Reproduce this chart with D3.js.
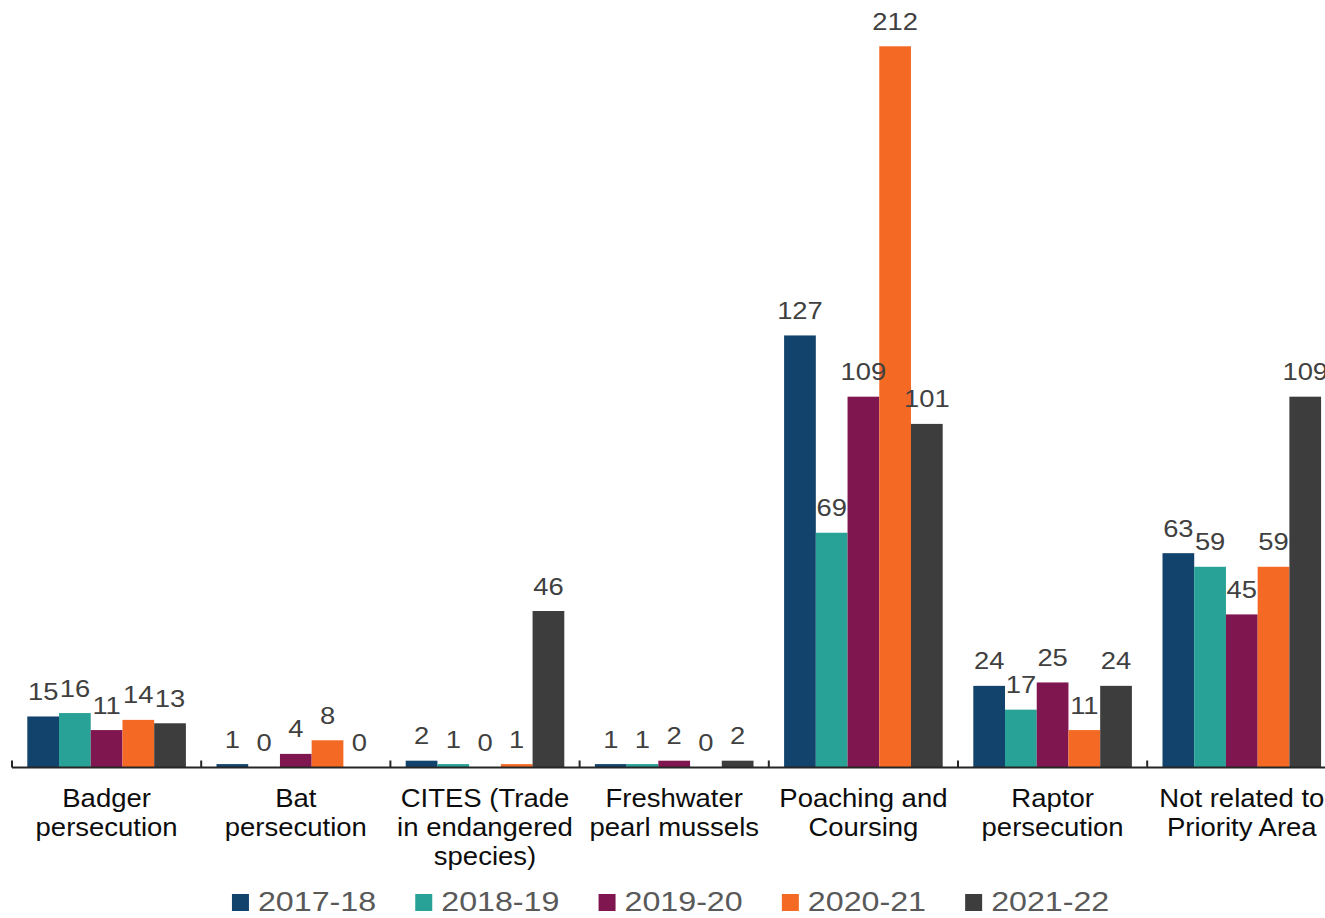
<!DOCTYPE html>
<html>
<head>
<meta charset="utf-8">
<script src="https://cdn.jsdelivr.net/npm/d3@7"></script>
<style>
  html, body { margin: 0; padding: 0; background: #ffffff; }
  svg { display: block; }
  text { font-family: "Liberation Sans", Arial, sans-serif; }
</style>
</head>
<body>
<svg id="chart" width="1325" height="918"></svg>
<script>
const categories = [
  ["Badger", "persecution"],
  ["Bat", "persecution"],
  ["CITES (Trade", "in endangered", "species)"],
  ["Freshwater", "pearl mussels"],
  ["Poaching and", "Coursing"],
  ["Raptor", "persecution"],
  ["Not related to", "Priority Area"]
];
const seriesNames = ["2017-18", "2018-19", "2019-20", "2020-21", "2021-22"];
const seriesColors = ["#12436D", "#28A197", "#801650", "#F46A25", "#3D3D3D"];
const v2017 = [15, 1, 2, 1, 127, 24, 63];
const v2018 = [16, 0, 1, 1, 69, 17, 59];
const v2019 = [11, 4, 0, 2, 109, 25, 45];
const v2020 = [14, 8, 1, 0, 212, 11, 59];
const v2021 = [13, 0, 46, 2, 101, 24, 109];
const seriesValues = [v2017, v2018, v2019, v2020, v2021];

const svg = d3.select("#chart");
const SX = 1.14;

const catKeys = categories.map((c, i) => i);
const x0 = d3.scaleBand().domain(catKeys).range([12, 12 + 7 * 189.2]).paddingInner(0).paddingOuter(0);
const x1 = d3.scaleBand().domain(seriesNames).range([15.3, 189.2 - 15.3]).padding(0);
const y = d3.scaleLinear().domain([0, 225]).range([767.5, 767.5 - 225 * 3.402]);

const data = [];
catKeys.forEach(ci => {
  seriesNames.forEach((s, si) => {
    data.push({ ci, s, si, v: seriesValues[si][ci] });
  });
});

// bars
svg.append("g").selectAll("rect").data(data).join("rect")
  .attr("x", d => x0(d.ci) + x1(d.s))
  .attr("y", d => y(d.v))
  .attr("width", x1.bandwidth())
  .attr("height", d => y(0) - y(d.v))
  .attr("fill", d => seriesColors[d.si]);

// data labels
svg.append("g").selectAll("text").data(data).join("text")
  .attr("transform", d => `translate(${x0(d.ci) + x1(d.s) + x1.bandwidth() / 2},${y(d.v) - 16.5}) scale(${SX},1)`)
  .attr("text-anchor", "middle")
  .attr("font-size", 24)
  .attr("fill", "#404040")
  .text(d => d.v);

// axis line and inside ticks
const axisG = svg.append("g");
axisG.append("line")
  .attr("x1", x0.range()[0]).attr("x2", 1325)
  .attr("y1", y(0)).attr("y2", y(0))
  .attr("stroke", "#262626").attr("stroke-width", 2);
const tickXs = catKeys.map(ci => x0(ci)).concat([x0.range()[1]]);
axisG.selectAll("line.tick").data(tickXs).join("line")
  .attr("class", "tick")
  .attr("x1", d => d).attr("x2", d => d)
  .attr("y1", y(0)).attr("y2", y(0) - 7)
  .attr("stroke", "#262626").attr("stroke-width", 2);

// category labels
const catG = svg.append("g");
categories.forEach((lines, ci) => {
  const cx = x0(ci) + x0.bandwidth() / 2;
  lines.forEach((ln, li) => {
    catG.append("text")
      .attr("transform", `translate(${cx},${807 + li * 28.8}) scale(1.1,1)`)
      .attr("text-anchor", "middle")
      .attr("font-size", 25)
      .attr("fill", "#0d0d0d")
      .text(ln);
  });
});

// legend
const legItem = 183.3;
const legCenter = (x0.range()[0] + x0.range()[1]) / 2 - 4;
const legStart = legCenter - legItem * seriesNames.length / 2 + 20;
const legG = svg.append("g");
seriesNames.forEach((s, si) => {
  const lx = legStart + si * legItem;
  legG.append("rect")
    .attr("x", lx).attr("y", 894)
    .attr("width", 17).attr("height", 17)
    .attr("fill", seriesColors[si]);
  legG.append("text")
    .attr("transform", `translate(${lx + 26},${910.5}) scale(1.15,1)`)
    .attr("font-size", 28)
    .attr("fill", "#595959")
    .text(s);
});
</script>
</body>
</html>
